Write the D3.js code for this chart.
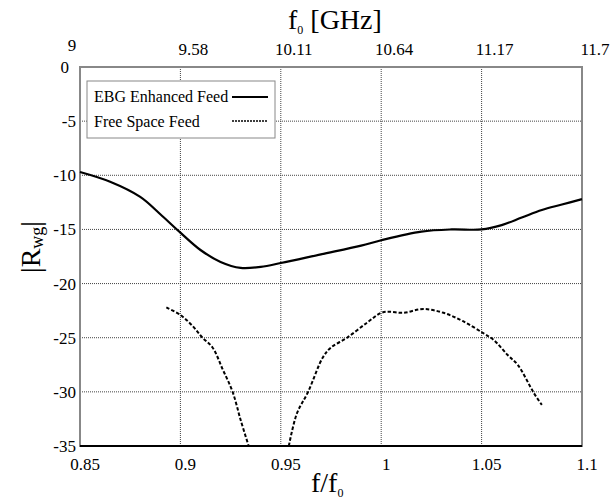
<!DOCTYPE html>
<html>
<head>
<meta charset="utf-8">
<script src="https://cdn.jsdelivr.net/npm/d3@7"></script>
<style>
  body { margin: 0; background: #fff; }
</style>
</head>
<body>
<svg id="chart" width="616" height="499" font-family="'Liberation Serif', 'Times New Roman', Times, serif"></svg>
<script>
// tick values
const xTicks = [0.85, 0.9, 0.95, 1, 1.05, 1.1];
const topTickLabels = ["9", "9.58", "10.11", "10.64", "11.17", "11.7"];
const yTicks = [0, -5, -10, -15, -20, -25, -30, -35];

// EBG enhanced feed (solid)
const ebgX = [0.85, 0.865, 0.88, 0.89, 0.9, 0.91, 0.92, 0.93, 0.94, 0.95, 0.97, 0.99, 1.0, 1.02, 1.035, 1.05, 1.06, 1.07, 1.08, 1.09, 1.1];
const ebgY = [-9.7, -10.6, -12.0, -13.6, -15.3, -16.9, -18.0, -18.55, -18.45, -18.1, -17.3, -16.5, -16.0, -15.2, -15.0, -15.0, -14.6, -13.9, -13.2, -12.7, -12.2];

// free space feed (dashed), two branches split by the null
const fsX1 = [0.893, 0.9, 0.906, 0.911, 0.916, 0.921, 0.926, 0.930, 0.934];
const fsY1 = [-22.2, -22.9, -23.9, -25.0, -25.9, -27.9, -30.0, -32.6, -35];
const fsX2 = [0.954, 0.958, 0.9636, 0.971, 0.975, 0.983, 0.993, 1.0, 1.004, 1.011, 1.021, 1.031, 1.041, 1.051, 1.056, 1.063, 1.068, 1.076, 1.080];
const fsY2 = [-35, -32, -30, -26.8, -25.9, -25.0, -23.6, -22.7, -22.6, -22.7, -22.35, -22.7, -23.5, -24.6, -25.2, -26.6, -27.5, -30.1, -31.2];

const margin = { left: 80, top: 67, right: 34, bottom: 53 };
const W = 616, H = 499;

const svg = d3.select('#chart');

const x = d3.scaleLinear().domain([0.85, 1.1]).range([margin.left, W - margin.right]);
const y = d3.scaleLinear().domain([0, -35]).range([margin.top, H - margin.bottom]);

// grid
svg.append('g').selectAll('line').data(xTicks.slice(1, -1)).enter().append('line')
    .attr('x1', d => x(d)).attr('x2', d => x(d))
    .attr('y1', y(0)).attr('y2', y(-35))
    .attr('stroke', '#444').attr('stroke-width', 1).attr('stroke-dasharray', '1,1');
svg.append('g').selectAll('line').data(yTicks.slice(1, -1)).enter().append('line')
    .attr('x1', x(0.85)).attr('x2', x(1.1))
    .attr('y1', d => y(d)).attr('y2', d => y(d))
    .attr('stroke', '#444').attr('stroke-width', 1).attr('stroke-dasharray', '1,1');

// frame
svg.append('rect')
    .attr('x', x(0.85)).attr('y', y(0))
    .attr('width', x(1.1) - x(0.85)).attr('height', y(-35) - y(0))
    .attr('fill', 'none').attr('stroke', '#888').attr('stroke-width', 2);
svg.append('line')
    .attr('x1', x(0.85)).attr('x2', x(1.1)).attr('y1', y(-35)).attr('y2', y(-35))
    .attr('stroke', '#000').attr('stroke-width', 2);

// bottom axis labels
svg.append('g').selectAll('text').data(xTicks).enter().append('text')
    .attr('x', d => x(d) + 5).attr('y', y(-35) + 24)
    .attr('text-anchor', 'middle').attr('font-size', 17)
    .text(d => d);

// top axis labels (GHz)
svg.append('g').selectAll('text').data(xTicks).enter().append('text')
    .attr('x', (d, i) => i === 0 ? x(d) - 8 : x(d) + 13)
    .attr('y', (d, i) => i === 0 ? 51 : 55)
    .attr('text-anchor', 'middle').attr('font-size', 17)
    .text((d, i) => topTickLabels[i]);

// y labels
svg.append('g').selectAll('text').data(yTicks).enter().append('text')
    .attr('x', (d, i) => i === 0 ? x(0.85) - 11 : x(0.85) - 4)
    .attr('y', d => y(d) + 6)
    .attr('text-anchor', 'end').attr('font-size', 17)
    .text(d => d);

// axis titles
const topTitle = svg.append('text').attr('x', 288).attr('y', 29).attr('font-size', 28);
topTitle.append('tspan').text('f');
topTitle.append('tspan').attr('font-size', 12).attr('dy', 5).text('0');
topTitle.append('tspan').attr('dy', -5).text(' [GHz]');

const botTitle = svg.append('text').attr('x', 311).attr('y', 492).attr('font-size', 28);
botTitle.append('tspan').text('f/f');
botTitle.append('tspan').attr('font-size', 12).attr('dy', 5).text('0');

const yTitle = svg.append('text').attr('transform', 'translate(40,247) rotate(-90)')
    .attr('text-anchor', 'middle').attr('font-size', 28);
yTitle.append('tspan').text('|R');
yTitle.append('tspan').attr('font-size', 18).attr('dy', 3).text('wg');
yTitle.append('tspan').attr('dy', -3).text('|');

// curves
const line = d3.line().x(d => x(d[0])).y(d => y(d[1])).curve(d3.curveCatmullRom);
svg.append('path').datum(d3.zip(ebgX, ebgY))
    .attr('d', line).attr('fill', 'none').attr('stroke', '#000').attr('stroke-width', 2.2);
[[fsX1, fsY1], [fsX2, fsY2]].forEach(([xs, ys]) => {
  svg.append('path').datum(d3.zip(xs, ys))
      .attr('d', line).attr('fill', 'none').attr('stroke', '#000')
      .attr('stroke-width', 2).attr('stroke-dasharray', '3.5,2');
});

// legend
const lg = svg.append('g');
lg.append('rect').attr('x', 87).attr('y', 81).attr('width', 188).attr('height', 57)
    .attr('fill', '#fff').attr('stroke', '#888').attr('stroke-width', 1);
lg.append('text').attr('x', 94).attr('y', 102).attr('font-size', 16).text('EBG Enhanced Feed');
lg.append('text').attr('x', 94).attr('y', 127).attr('font-size', 16).text('Free Space Feed');
lg.append('line').attr('x1', 232).attr('x2', 268).attr('y1', 97).attr('y2', 97)
    .attr('stroke', '#000').attr('stroke-width', 2);
lg.append('line').attr('x1', 232).attr('x2', 268).attr('y1', 121).attr('y2', 121)
    .attr('stroke', '#000').attr('stroke-width', 1.5).attr('stroke-dasharray', '2,1');
</script>
</body>
</html>
